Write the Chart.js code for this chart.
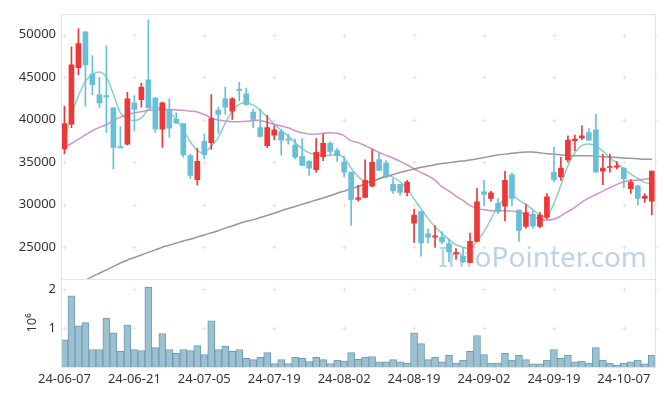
<!DOCTYPE html>
<html lang="ko">
<head>
<meta charset="UTF-8">
<title>Candlestick with volume</title>
<script src="https://cdn.jsdelivr.net/npm/chart.js"></script>
<style>
  html, body { margin: 0; padding: 0; background: #fff; }
  #wrap { width: 665px; height: 396px; }
</style>
</head>
<body>
<div id="wrap"><canvas id="chart" width="665" height="396"></canvas></div>
<script>
const dates = [
  '24-06-07','24-06-10','24-06-11','24-06-12','24-06-13','24-06-14','24-06-17','24-06-18','24-06-19','24-06-20',
  '24-06-21','24-06-24','24-06-25','24-06-26','24-06-27','24-06-28','24-07-01','24-07-02','24-07-03','24-07-04',
  '24-07-05','24-07-08','24-07-09','24-07-10','24-07-11','24-07-12','24-07-15','24-07-16','24-07-17','24-07-18',
  '24-07-19','24-07-22','24-07-23','24-07-24','24-07-25','24-07-26','24-07-29','24-07-30','24-07-31','24-08-01',
  '24-08-02','24-08-05','24-08-06','24-08-07','24-08-08','24-08-09','24-08-12','24-08-13','24-08-14','24-08-16',
  '24-08-19','24-08-20','24-08-21','24-08-22','24-08-23','24-08-26','24-08-27','24-08-28','24-08-29','24-08-30',
  '24-09-02','24-09-03','24-09-04','24-09-05','24-09-06','24-09-09','24-09-10','24-09-11','24-09-12','24-09-13',
  '24-09-19','24-09-20','24-09-23','24-09-24','24-09-25','24-09-26','24-09-27','24-09-30','24-10-02','24-10-04',
  '24-10-07','24-10-08','24-10-10','24-10-11','24-10-14'
];
const dateTicks = [0, 10, 20, 30, 40, 50, 60, 70, 80];
const priceTicks = [25000, 30000, 35000, 40000, 45000, 50000];
const volumeTicks = [1000000, 2000000];
const volumeTickLabels = ['1', '2'];

const open = [
  36550,39457,46124,50310,45349,42907,42830,41395,36822,37132,
  41977,42364,44690,42558,38876,41202,40039,39535,35775,32946,
  37442,37300,41124,42442,41008,43527,43023,40891,39070,36938,
  38178,38604,37713,37016,35698,35116,34108,35659,37209,36357,
  35000,33837,30620,30853,32170,35310,34883,32403,32403,31434,
  27829,29186,26589,26201,26163,25426,24225,23954,23178,25697,
  31511,30736,30155,29845,33527,29379,27441,28876,27441,28500,
  33837,33256,35271,37520,37868,38488,38798,33953,34380,34420,
  34302,31899,32209,30736,30426
];
const high = [
  41589,48566,50698,50310,47520,45000,48682,41395,39147,43217,
  42830,44302,51744,42558,42054,42442,40814,39535,35969,36628,
  38295,42946,41473,43799,42600,44380,43721,41202,41202,40504,
  39264,38876,38295,37713,37791,35194,37791,38295,37403,36628,
  35698,33837,32286,35271,36473,36085,35194,33062,32403,32868,
  29496,29186,27132,27558,26860,26008,24845,24923,26666,31899,
  32868,31589,30736,33915,33760,29379,30039,29379,29069,31317,
  36744,35581,38101,38178,39264,38953,40620,35969,35968,35077,
  34350,32945,32300,31317,33954
];
const low = [
  35969,39070,45271,41589,42946,41395,38488,34225,36667,37016,
  38682,41473,41395,38488,36744,37907,39574,35581,33062,32287,
  35388,36500,38372,40620,40039,42171,41667,39070,37950,36744,
  37636,35853,37132,35388,34612,33450,33837,35194,35853,35078,
  33256,27558,30426,30800,32093,34031,33139,31318,31124,31046,
  25581,23953,25503,24999,25400,23300,23566,23178,23178,25697,
  29961,30426,28992,28101,29883,25697,27248,27248,27300,28300,
  32674,32868,34999,36357,37636,37597,33837,32364,33837,34224,
  31977,31317,29961,30271,28799
];
const close = [
  39535,46434,48954,46434,44109,41977,42674,36744,36667,42442,
  41202,43837,41395,38876,41977,38992,39574,35853,33450,35116,
  35892,40116,40620,41473,42442,43450,41783,40039,38023,39070,
  38798,37597,37597,35581,34612,34302,36163,37209,36279,35775,
  33837,30620,30814,32868,34999,34031,33449,31628,31434,32674,
  28798,25503,26201,26356,25620,24457,24380,23295,25697,30348,
  31201,31395,29186,32868,30736,26976,29069,27519,28798,30931,
  32946,34302,37597,37713,38101,37597,33837,34302,34460,34570,
  33062,32674,30736,31007,33954
];
const volume = [
  700000,1830000,1060000,1140000,450000,450000,1260000,880000,400000,1080000,
  450000,420000,2050000,500000,860000,450000,350000,450000,420000,550000,
  320000,1190000,450000,530000,400000,450000,220000,190000,250000,370000,
  90000,190000,90000,250000,220000,140000,250000,190000,90000,180000,
  150000,370000,200000,250000,270000,130000,130000,190000,130000,100000,
  880000,600000,190000,250000,130000,300000,100000,180000,400000,810000,
  320000,100000,100000,350000,180000,300000,190000,80000,80000,180000,
  450000,220000,300000,130000,150000,100000,500000,180000,100000,50000,
  100000,130000,180000,80000,300000
];
const ma5 = [
  37500,40500,42800,44500,45300,45600,45000,43000,40800,40100,
  39900,40200,41200,41500,41300,40900,40000,38800,37400,36400,
  36100,36900,37900,39600,41000,41800,42000,41700,41100,40300,
  39500,38700,38100,37300,36600,36100,35900,35800,35800,35900,
  35500,34300,33300,32750,32750,33050,33450,33250,32700,31900,
  30700,29500,28400,27400,26600,25900,25300,25000,24850,25700,
  26850,28300,29850,30700,31100,30550,30050,29400,28800,28600,
  30150,32300,34600,36100,36950,37130,36900,36300,35500,34900,
  34200,33600,33100,32600,32500
];
const ma20 = [
  36800,37200,37700,38200,38700,39100,39400,39900,40300,40600,
  40800,40950,41100,41150,41200,41200,41150,41100,41000,40900,
  40600,40200,39950,39850,39750,39750,39800,39900,39900,39700,
  39450,39250,39050,38700,38450,38300,38300,38400,38450,38400,
  38100,37500,37300,36950,36550,36150,35800,35500,35100,34700,
  34200,33800,33400,32900,32100,31600,31000,30500,29900,29600,
  29400,29300,29300,29300,29250,29100,28900,28600,28300,28200,
  28300,28700,29200,29700,30300,30800,31200,31600,32000,32400,
  32700,32850,32900,33000,33100
];
const ma60 = [
  20300,20600,20900,21150,21550,21950,22350,22750,23150,23500,
  23800,24100,24400,24700,25000,25250,25500,25750,25950,26200,
  26450,26700,26950,27250,27500,27800,28050,28250,28500,28750,
  29000,29300,29550,29800,30050,30300,30550,30800,31050,31350,
  31600,31850,32150,32450,32750,33050,33300,33550,33800,34000,
  34200,34400,34550,34700,34850,34950,35050,35150,35250,35400,
  35550,35700,35850,35950,36050,36150,36200,36200,36100,36000,
  35950,35850,35800,35750,35750,35750,35700,35650,35600,35550,
  35500,35450,35400,35350,35350
];

const upColor = 'rgb(238,56,56)';
const downColor = 'rgb(104,191,217)';
const candleColors = close.map((c, i) => c >= open[i] ? upColor : downColor);
const pts = arr => arr.map((v, i) => ({ x: i, y: v }));

Chart.defaults.font.family = '"Noto Sans", sans-serif';
Chart.defaults.font.size = 13;
Chart.defaults.color = '#333';

// light "+" marks where grid lines would cross, plus the watermark
const crossGrid = {
  id: 'crossGrid',
  beforeDatasetsDraw(chart) {
    const { ctx, scales } = chart;
    ctx.save();
    ctx.strokeStyle = '#e2e2e2';
    ctx.lineWidth = 1;
    const xs = scales.x.ticks.map(t => scales.x.getPixelForValue(t.value));
    xs.push(chart.chartArea.right - 1);
    const ys = [];
    scales.y.ticks.forEach(t => ys.push(scales.y.getPixelForValue(t.value)));
    scales.y2.ticks.forEach(t => ys.push(scales.y2.getPixelForValue(t.value)));
    xs.forEach(x => ys.forEach(y => {
      const px = Math.round(x) + 0.5, py = Math.round(y) + 0.5;
      ctx.beginPath();
      ctx.moveTo(px - 2, py); ctx.lineTo(px + 2, py);
      ctx.moveTo(px, py - 2); ctx.lineTo(px, py + 2);
      ctx.stroke();
    }));
    ctx.font = '28px "Noto Sans"';
    ctx.fillStyle = 'rgba(160,194,214,0.7)';
    ctx.textAlign = 'right';
    ctx.textBaseline = 'alphabetic';
    ctx.fillText('InfoPointer.com', 647, 267);
    ctx.restore();
  },
  afterDraw(chart) {
    const { ctx, chartArea: a, scales } = chart;
    ctx.save();
    ctx.strokeStyle = '#e4e4e4';
    ctx.lineWidth = 1;
    ctx.strokeRect(Math.round(a.left) - 0.5, Math.round(a.top) + 0.5, Math.round(a.right - a.left), Math.round(a.bottom - a.top));
    const sy = Math.round(scales.y2.top) + 0.5;
    ctx.beginPath();
    ctx.moveTo(a.left, sy); ctx.lineTo(a.right, sy);
    ctx.stroke();
    ctx.restore();
  }
};

new Chart(document.getElementById('chart'), {
  type: 'bar',
  data: {
    datasets: [
      {
        type: 'line', label: 'MA60', data: pts(ma60), yAxisID: 'y',
        borderColor: 'rgba(140,140,140,0.9)', borderWidth: 1.5, pointRadius: 0, tension: 0.3, order: 5
      },
      {
        type: 'line', label: 'MA20', data: pts(ma20), yAxisID: 'y',
        borderColor: 'rgba(196,128,192,0.85)', borderWidth: 1.5, pointRadius: 0, tension: 0.3, order: 5
      },
      {
        type: 'line', label: 'MA5', data: pts(ma5), yAxisID: 'y',
        borderColor: 'rgba(120,198,184,0.85)', borderWidth: 1.5, pointRadius: 0, tension: 0.3, order: 5
      },
      {
        label: 'wick', data: low.map((l, i) => ({ x: i, y: [l, high[i]] })), yAxisID: 'y',
        backgroundColor: candleColors, barThickness: 1, grouped: false, order: 2
      },
      {
        label: 'body', data: open.map((o, i) => ({ x: i, y: [o, close[i]] })), yAxisID: 'y',
        backgroundColor: candleColors, barThickness: 5, minBarLength: 1, grouped: false, order: 1
      },
      {
        label: 'volume', data: pts(volume), yAxisID: 'y2',
        backgroundColor: '#9dc0d1', borderColor: '#6c9db5', borderWidth: 1,
        barThickness: 7, grouped: false, order: 3
      }
    ]
  },
  options: {
    responsive: false,
    animation: false,
    layout: { padding: { top: 10, right: 9, bottom: 9, left: 0 } },
    plugins: { legend: { display: false }, tooltip: { enabled: false } },
    scales: {
      x: {
        type: 'linear', min: -0.35, max: 84.6, offset: false,
        grid: { display: false, drawTicks: false }, border: { display: false },
        ticks: { autoSkip: false, maxRotation: 0, padding: 4, callback: v => dates[v] || '' },
        afterBuildTicks: s => { s.ticks = dateTicks.map(v => ({ value: v })); },
        afterFit: s => { s.height = 20; }
      },
      y2: {
        type: 'linear', position: 'left', stack: 'main', stackWeight: 1,
        min: 0, max: 2271000,
        grid: { display: false, drawTicks: false }, border: { display: false },
        ticks: { padding: 6, callback: v => volumeTickLabels[volumeTicks.indexOf(v)] },
        afterBuildTicks: s => { s.ticks = volumeTicks.map(v => ({ value: v })); },
        title: { display: true, text: '10⁶', padding: { top: 24, bottom: 0 } },
        afterFit: s => { s.width = 62; }
      },
      y: {
        type: 'linear', position: 'left', stack: 'main', stackWeight: 3,
        min: 21308, max: 52442,
        grid: { display: false, drawTicks: false }, border: { display: false },
        ticks: { padding: 6, callback: v => String(v) },
        afterBuildTicks: s => { s.ticks = priceTicks.map(v => ({ value: v })); },
        afterFit: s => { s.width = 62; }
      }
    }
  },
  plugins: [crossGrid]
});
</script>
</body>
</html>
